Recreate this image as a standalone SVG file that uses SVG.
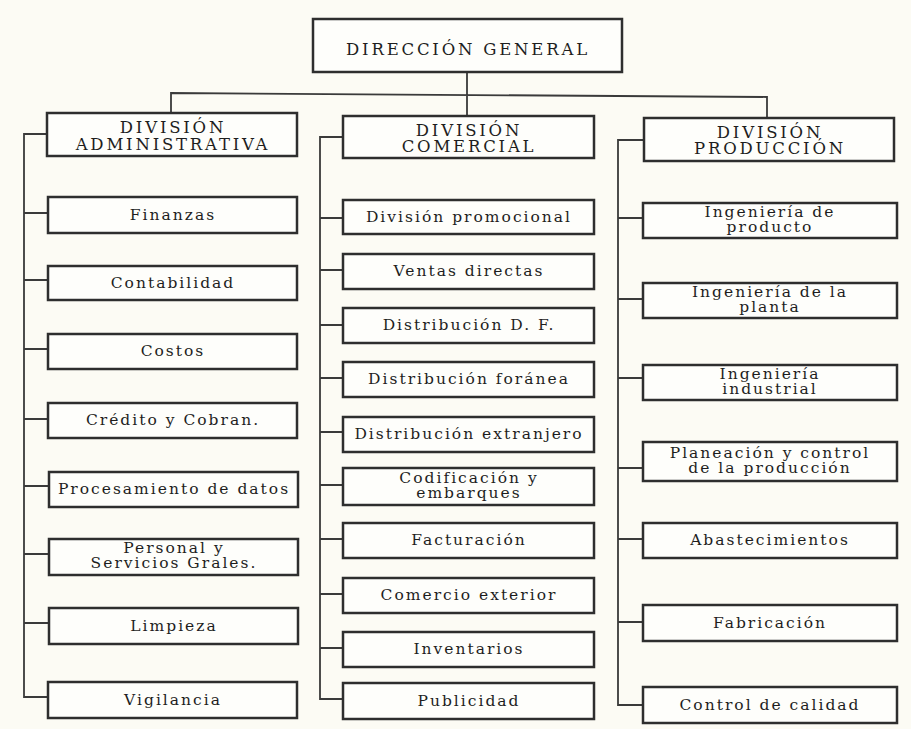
<svg xmlns="http://www.w3.org/2000/svg" width="911" height="729" viewBox="0 0 911 729">
  <style>
    .box { fill: #fefefb; stroke: #2e2e2e; stroke-width: 2.5; }
    .wire { fill: none; stroke: #3a3a3a; stroke-width: 1.8; }
    text { font-family: "DejaVu Serif", "Liberation Serif", serif; fill: #1e1e1e; text-anchor: middle; }
    .lbl { font-size: 15.5px; letter-spacing: 2px; }
    .head { font-size: 16.5px; letter-spacing: 2.8px; }
  </style>
  <rect width="911" height="729" fill="#fcfbf4"/>

  <!-- connectors -->
  <g id="connectors">
    <path class="wire" d="M467 72 V93 M171 113 V93 L767 97 V118 M467 93 V116"/>
    <!-- administrative trunk -->
    <path class="wire" d="M47 134 H24 V697 H48 M24 213 H48 M24 280 H48 M24 349 H48 M24 419 H48 M24 486 H49 M24 554 H49 M24 623 H49"/>
    <!-- commercial trunk -->
    <path class="wire" d="M343 137 H320 V699 H343 M320 218 H343 M320 270 H343 M320 325 H343 M320 378 H343 M320 432 H343 M320 485 H343 M320 539 H343 M320 594 H343 M320 648 H343"/>
    <!-- production trunk -->
    <path class="wire" d="M644 140 H618 V705 H643 M618 218 H643 M618 299 H643 M618 378 H643 M618 468 H643 M618 539 H643 M618 622 H643"/>
  </g>

  <g id="direccion-general">
    <rect class="box" x="313" y="19" width="309" height="53"/>
    <text class="head" x="468" y="55">DIRECCIÓN GENERAL</text>
  </g>

  <g id="div-administrativa">
    <rect class="box" x="47" y="113" width="250" height="43"/>
    <text class="head" x="173" y="133">DIVISIÓN</text>
    <text class="head" x="173" y="150">ADMINISTRATIVA</text>
  </g>
  <g id="div-comercial">
    <rect class="box" x="343" y="116" width="251" height="42"/>
    <text class="head" x="469" y="136">DIVISIÓN</text>
    <text class="head" x="469" y="152">COMERCIAL</text>
  </g>
  <g id="div-produccion">
    <rect class="box" x="644" y="118" width="250" height="43"/>
    <text class="head" x="770" y="138">DIVISIÓN</text>
    <text class="head" x="770" y="154">PRODUCCIÓN</text>
  </g>

  <!-- administrative units -->
  <g id="finanzas"><rect class="box" x="48" y="197" width="249" height="36"/><text class="lbl" x="173" y="220">Finanzas</text></g>
  <g id="contabilidad"><rect class="box" x="48" y="266" width="249" height="34"/><text class="lbl" x="173" y="288">Contabilidad</text></g>
  <g id="costos"><rect class="box" x="48" y="334" width="249" height="35"/><text class="lbl" x="173" y="356">Costos</text></g>
  <g id="credito"><rect class="box" x="48" y="403" width="249" height="35"/><text class="lbl" x="173" y="425">Crédito y Cobran.</text></g>
  <g id="procesamiento"><rect class="box" x="49" y="472" width="249" height="35"/><text class="lbl" x="174" y="494">Procesamiento de datos</text></g>
  <g id="personal"><rect class="box" x="49" y="539" width="249" height="36"/><text class="lbl" x="174" y="553">Personal y</text><text class="lbl" x="174" y="568">Servicios Grales.</text></g>
  <g id="limpieza"><rect class="box" x="49" y="608" width="249" height="36"/><text class="lbl" x="174" y="631">Limpieza</text></g>
  <g id="vigilancia"><rect class="box" x="48" y="682" width="249" height="36"/><text class="lbl" x="173" y="705">Vigilancia</text></g>

  <!-- commercial units -->
  <g id="promocional"><rect class="box" x="343" y="200" width="251" height="34"/><text class="lbl" x="469" y="222">División promocional</text></g>
  <g id="ventas"><rect class="box" x="343" y="254" width="251" height="35"/><text class="lbl" x="469" y="276">Ventas directas</text></g>
  <g id="distribucion-df"><rect class="box" x="343" y="308" width="251" height="35"/><text class="lbl" x="469" y="330">Distribución D. F.</text></g>
  <g id="distribucion-foranea"><rect class="box" x="343" y="362" width="251" height="35"/><text class="lbl" x="469" y="384">Distribución foránea</text></g>
  <g id="distribucion-extranjero"><rect class="box" x="343" y="417" width="251" height="35"/><text class="lbl" x="469" y="439">Distribución extranjero</text></g>
  <g id="codificacion"><rect class="box" x="343" y="468" width="251" height="37"/><text class="lbl" x="469" y="483">Codificación y</text><text class="lbl" x="469" y="498">embarques</text></g>
  <g id="facturacion"><rect class="box" x="343" y="523" width="251" height="35"/><text class="lbl" x="469" y="545">Facturación</text></g>
  <g id="comercio-exterior"><rect class="box" x="343" y="578" width="251" height="35"/><text class="lbl" x="469" y="600">Comercio exterior</text></g>
  <g id="inventarios"><rect class="box" x="343" y="632" width="251" height="35"/><text class="lbl" x="469" y="654">Inventarios</text></g>
  <g id="publicidad"><rect class="box" x="343" y="683" width="251" height="36"/><text class="lbl" x="469" y="706">Publicidad</text></g>

  <!-- production units -->
  <g id="ing-producto"><rect class="box" x="643" y="203" width="254" height="35"/><text class="lbl" x="770" y="217">Ingeniería de</text><text class="lbl" x="770" y="232">producto</text></g>
  <g id="ing-planta"><rect class="box" x="643" y="283" width="254" height="35"/><text class="lbl" x="770" y="297">Ingeniería de la</text><text class="lbl" x="770" y="312">planta</text></g>
  <g id="ing-industrial"><rect class="box" x="643" y="365" width="254" height="35"/><text class="lbl" x="770" y="379">Ingeniería</text><text class="lbl" x="770" y="394">industrial</text></g>
  <g id="planeacion"><rect class="box" x="643" y="442" width="254" height="39"/><text class="lbl" x="770" y="458">Planeación y control</text><text class="lbl" x="770" y="473">de la producción</text></g>
  <g id="abastecimientos"><rect class="box" x="643" y="523" width="254" height="35"/><text class="lbl" x="770" y="545">Abastecimientos</text></g>
  <g id="fabricacion"><rect class="box" x="643" y="605" width="254" height="36"/><text class="lbl" x="770" y="628">Fabricación</text></g>
  <g id="control-calidad"><rect class="box" x="643" y="687" width="254" height="36"/><text class="lbl" x="770" y="710">Control de calidad</text></g>
</svg>
